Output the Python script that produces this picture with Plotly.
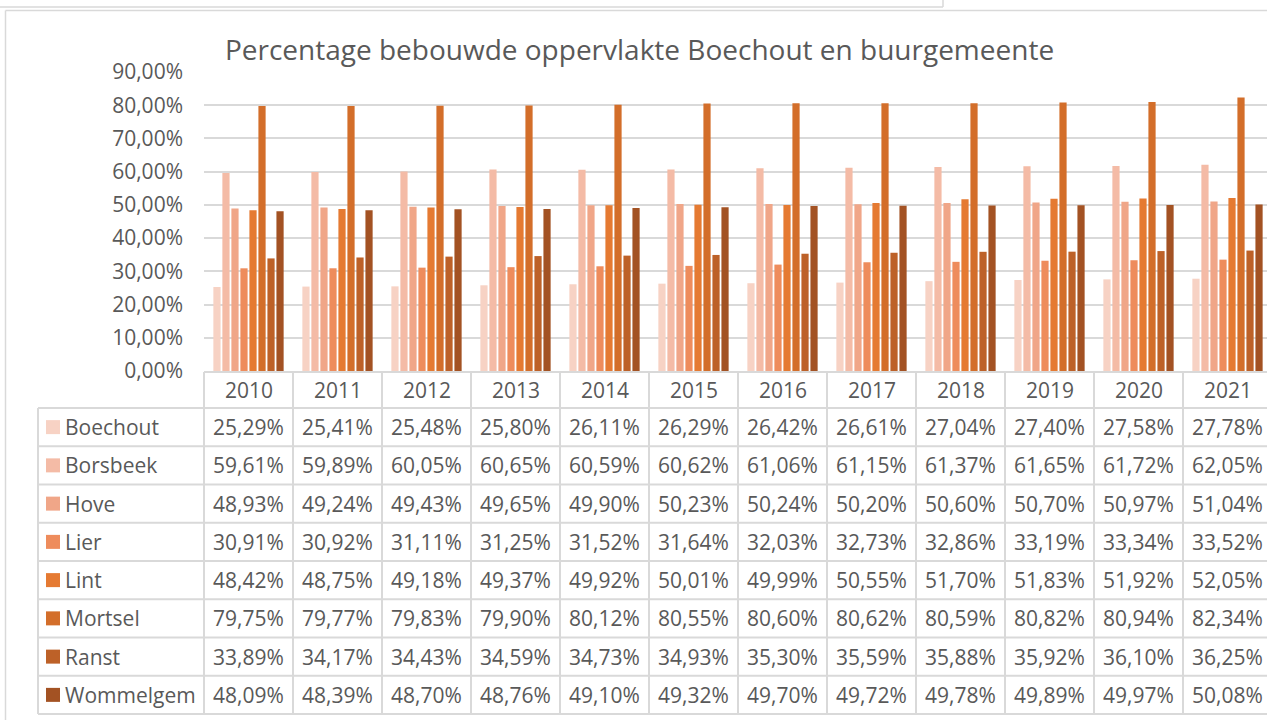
import plotly.graph_objects as go

# ---------------- data ----------------
years = [2010, 2011, 2012, 2013, 2014, 2015, 2016, 2017, 2018, 2019, 2020, 2021]
series_names = ["Boechout", "Borsbeek", "Hove", "Lier", "Lint", "Mortsel", "Ranst", "Wommelgem"]

boechout = [25.29, 25.41, 25.48, 25.80, 26.11, 26.29, 26.42, 26.61, 27.04, 27.40, 27.58, 27.78]
borsbeek = [59.61, 59.89, 60.05, 60.65, 60.59, 60.62, 61.06, 61.15, 61.37, 61.65, 61.72, 62.05]
hove = [48.93, 49.24, 49.43, 49.65, 49.90, 50.23, 50.24, 50.20, 50.60, 50.70, 50.97, 51.04]
lier = [30.91, 30.92, 31.11, 31.25, 31.52, 31.64, 32.03, 32.73, 32.86, 33.19, 33.34, 33.52]
lint = [48.42, 48.75, 49.18, 49.37, 49.92, 50.01, 49.99, 50.55, 51.70, 51.83, 51.92, 52.05]
mortsel = [79.75, 79.77, 79.83, 79.90, 80.12, 80.55, 80.60, 80.62, 80.59, 80.82, 80.94, 82.34]
ranst = [33.89, 34.17, 34.43, 34.59, 34.73, 34.93, 35.30, 35.59, 35.88, 35.92, 36.10, 36.25]
wommelgem = [48.09, 48.39, 48.70, 48.76, 49.10, 49.32, 49.70, 49.72, 49.78, 49.89, 49.97, 50.08]

series_values = [boechout, borsbeek, hove, lier, lint, mortsel, ranst, wommelgem]
colors = ["#F7D2C4", "#F4BBA6", "#F0A688", "#EE8C5C", "#E57A32", "#D36E2A", "#BD6128", "#A35223"]

title_text = "Percentage bebouwde oppervlakte Boechout en buurgemeente"

# ---------------- geometry (pixels) ----------------
W, H = 1267, 720
FONT = "Open Sans"
FS = 21
TXT = "#595959"
GRID = "#D9D9D9"
plot_left = 204
cat_w = 89
plot_top = 72
plot_bottom = 371
tbl_left = 38
row_top = 408
row_h = 38.25


def px(x):
    return x / W


def py(y):
    return 1 - y / H


def fmt(v):
    return f"{v:.2f}%".replace(".", ",")


fig = go.Figure()
for name, vals, col in zip(series_names, series_values, colors):
    fig.add_trace(go.Bar(
        x=years, y=[v / 100 for v in vals], name=name,
        marker=dict(color=col, line=dict(width=0)),
        hovertemplate=name + " %{x}: %{y:.2%}<extra></extra>",
    ))

x_start = years[0] - 0.5
x_end = x_start + (W - plot_left) / cat_w

shapes = []
annotations = []

# outer frame lines
shapes.append(dict(type="line", xref="paper", yref="paper", x0=0, x1=px(943), y0=py(7), y1=py(7),
                   line=dict(color=GRID, width=1.5)))
shapes.append(dict(type="line", xref="paper", yref="paper", x0=px(943), x1=px(943), y0=py(0), y1=py(7),
                   line=dict(color=GRID, width=1.5)))
shapes.append(dict(type="line", xref="paper", yref="paper", x0=px(5.5), x1=1, y0=py(10.5), y1=py(10.5),
                   line=dict(color=GRID, width=1.5)))
shapes.append(dict(type="line", xref="paper", yref="paper", x0=px(5.5), x1=px(5.5), y0=py(10.5), y1=0,
                   line=dict(color=GRID, width=1.5)))

# table: header top line
shapes.append(dict(type="line", xref="paper", yref="paper", x0=px(plot_left), x1=1,
                   y0=py(plot_bottom + 1), y1=py(plot_bottom + 1), line=dict(color=GRID, width=2)))
# row lines
for i in range(len(series_names) + 1):
    yy = row_top + row_h * i
    shapes.append(dict(type="line", xref="paper", yref="paper", x0=px(tbl_left), x1=1,
                       y0=py(yy), y1=py(yy), line=dict(color=GRID, width=2)))
table_bottom = row_top + row_h * len(series_names)
# left border of label column
shapes.append(dict(type="line", xref="paper", yref="paper", x0=px(tbl_left), x1=px(tbl_left),
                   y0=py(row_top), y1=py(table_bottom), line=dict(color=GRID, width=2)))
# column separators
shapes.append(dict(type="line", xref="paper", yref="paper", x0=px(plot_left), x1=px(plot_left),
                   y0=py(plot_bottom + 1), y1=py(table_bottom), line=dict(color=GRID, width=2)))
for yr in years[1:]:
    shapes.append(dict(type="line", xref="x", yref="paper", x0=yr - 0.5, x1=yr - 0.5,
                       y0=py(plot_bottom + 1), y1=py(table_bottom), line=dict(color=GRID, width=2)))

# header years
for yr in years:
    annotations.append(dict(x=yr, xref="x", y=py((plot_bottom + row_top) / 2), yref="paper",
                            text=str(yr), showarrow=False, xanchor="center", yanchor="middle",
                            font=dict(family=FONT, size=FS, color=TXT)))

# rows
for i, (name, vals, col) in enumerate(zip(series_names, series_values, colors)):
    yc = row_top + row_h * (i + 0.5)
    shapes.append(dict(type="rect", xref="paper", yref="paper", x0=px(46), x1=px(60),
                       y0=py(yc - 7), y1=py(yc + 7), fillcolor=col, line=dict(width=0)))
    annotations.append(dict(x=px(63), xref="paper", y=py(yc), yref="paper", text=name,
                            showarrow=False, xanchor="left", yanchor="middle",
                            font=dict(family=FONT, size=FS, color=TXT)))
    for yr, v in zip(years, vals):
        annotations.append(dict(x=yr, xref="x", y=py(yc), yref="paper", text=fmt(v),
                                showarrow=False, xanchor="center", yanchor="middle",
                                font=dict(family=FONT, size=FS, color=TXT)))

fig.update_layout(
    width=W, height=H, autosize=False,
    margin=dict(l=0, r=0, t=0, b=0, pad=0, autoexpand=False),
    paper_bgcolor="white", plot_bgcolor="white",
    separators=",.",
    showlegend=False,
    barmode="group", bargap=0.19, bargroupgap=0.2,
    title=dict(text=title_text, x=px(639.5), xanchor="center", y=py(50), yanchor="middle",
               font=dict(family=FONT, size=28, color=TXT), automargin=False),
    xaxis=dict(domain=[px(plot_left), 1], range=[x_start, x_end], showticklabels=False,
               showgrid=False, zeroline=False, showline=False, ticks="", automargin=False),
    yaxis=dict(domain=[py(plot_bottom), py(plot_top)], range=[0, 0.9], dtick=0.1, tick0=0,
               tickformat=".2%", showgrid=True, gridcolor=GRID, gridwidth=1.5,
               zeroline=False, showline=False, ticks="", ticklabelstandoff=20, automargin=False,
               tickfont=dict(family=FONT, size=FS, color=TXT)),
    shapes=shapes,
    annotations=annotations,
    font=dict(family=FONT, color=TXT),
)

fig.write_html(
    "out.html",
    config={"displayModeBar": False},
    post_script="document.documentElement.style.margin='0';document.body.style.margin='0';"
                "document.documentElement.style.overflow='hidden';document.body.style.overflow='hidden';",
)
